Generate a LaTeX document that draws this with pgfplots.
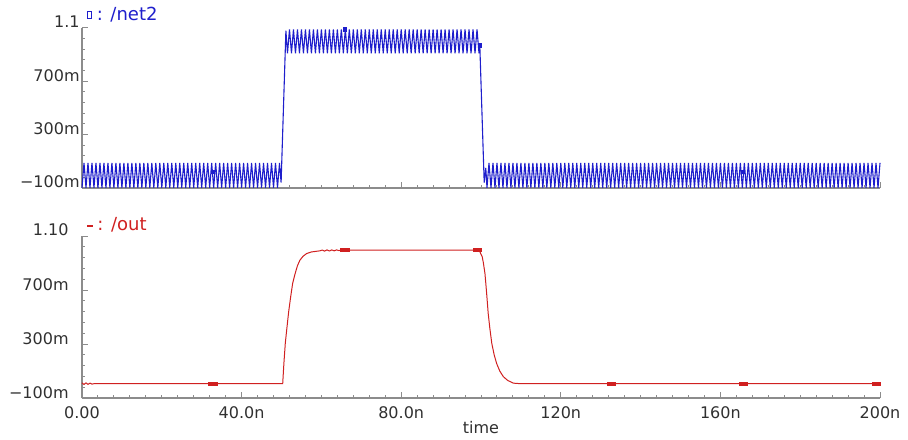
\documentclass[border=0pt]{standalone}
\usepackage{fontspec}
\setmainfont{DejaVu Sans}
\usepackage{pgfplots}
\pgfplotsset{compat=1.18}
\definecolor{wblue}{HTML}{1E1ECC}
\definecolor{wred}{HTML}{D02020}
\definecolor{axgray}{HTML}{8C8C8C}
\definecolor{lbl}{HTML}{303030}

\pgfplotsset{wave/.style={
  scale only axis, width=399pt,
  xmin=0, xmax=200, ymin=-0.1, ymax=1.1,
  axis lines=left, axis line style={-, axgray, line width=0.6pt},
  xtick={0,40,...,200}, ytick={-0.1,0.3,0.7,1.1},
  minor x tick num=9, minor y tick num=4,
  tick style={axgray, line width=0.5pt},
  major tick length=3pt, minor tick length=1.7pt,
  tick align=inside, clip=false,
  ticklabel style={font=\fontsize{8}{9}\selectfont, text=lbl},
  yticklabel style={anchor=base east, inner sep=0pt},
}}

\begin{document}
\begin{tikzpicture}
\useasboundingbox (0,0) rectangle (454pt,219.5pt);

% top panel: /net2
\begin{axis}[wave, at={(41pt,125.5pt)}, anchor=south west, height=80pt,
  xticklabels={},
  yticklabels={−100m,300m,700m,{1.1\hspace{13.5pt}}},
  yticklabel style={xshift=-1pt}]
\addplot[wblue, line width=0.55pt] coordinates {
(0,-.098)(.5,.088)(1,-.098)(1.5,.088)(2,-.098)(2.5,.088)(3,-.098)(3.5,.088)(4,-.098)(4.5,.088)
(5,-.098)(5.5,.088)(6,-.098)(6.5,.088)(7,-.098)(7.5,.088)(8,-.098)(8.5,.088)(9,-.098)(9.5,.088)
(10,-.098)(10.5,.088)(11,-.098)(11.5,.088)(12,-.098)(12.5,.088)(13,-.098)(13.5,.088)(14,-.098)(14.5,.088)
(15,-.098)(15.5,.088)(16,-.098)(16.5,.088)(17,-.098)(17.5,.088)(18,-.098)(18.5,.088)(19,-.098)(19.5,.088)
(20,-.098)(20.5,.088)(21,-.098)(21.5,.088)(22,-.098)(22.5,.088)(23,-.098)(23.5,.088)(24,-.098)(24.5,.088)
(25,-.098)(25.5,.088)(26,-.098)(26.5,.088)(27,-.098)(27.5,.088)(28,-.098)(28.5,.088)(29,-.098)(29.5,.088)
(30,-.098)(30.5,.088)(31,-.098)(31.5,.088)(32,-.098)(32.5,.088)(33,-.098)(33.5,.088)(34,-.098)(34.5,.088)
(35,-.098)(35.5,.088)(36,-.098)(36.5,.088)(37,-.098)(37.5,.088)(38,-.098)(38.5,.088)(39,-.098)(39.5,.088)
(40,-.098)(40.5,.088)(41,-.098)(41.5,.088)(42,-.098)(42.5,.088)(43,-.098)(43.5,.088)(44,-.098)(44.5,.088)
(45,-.098)(45.5,.088)(46,-.098)(46.5,.088)(47,-.098)(47.5,.088)(48,-.098)(48.5,.088)(49,-.098)(49.5,.088)
(49.9,-.06)(51.1,1.08)
(51.5,.91)(52,1.09)(52.5,.91)(53,1.09)(53.5,.91)(54,1.09)(54.5,.91)(55,1.09)(55.5,.91)
(56,1.09)(56.5,.91)(57,1.09)(57.5,.91)(58,1.09)(58.5,.91)(59,1.09)(59.5,.91)(60,1.09)(60.5,.91)
(61,1.09)(61.5,.91)(62,1.09)(62.5,.91)(63,1.09)(63.5,.91)(64,1.09)(64.5,.91)(65,1.09)(65.5,.91)
(66,1.09)(66.5,.91)(67,1.09)(67.5,.91)(68,1.09)(68.5,.91)(69,1.09)(69.5,.91)(70,1.09)(70.5,.91)
(71,1.09)(71.5,.91)(72,1.09)(72.5,.91)(73,1.09)(73.5,.91)(74,1.09)(74.5,.91)(75,1.09)(75.5,.91)
(76,1.09)(76.5,.91)(77,1.09)(77.5,.91)(78,1.09)(78.5,.91)(79,1.09)(79.5,.91)(80,1.09)(80.5,.91)
(81,1.09)(81.5,.91)(82,1.09)(82.5,.91)(83,1.09)(83.5,.91)(84,1.09)(84.5,.91)(85,1.09)(85.5,.91)
(86,1.09)(86.5,.91)(87,1.09)(87.5,.91)(88,1.09)(88.5,.91)(89,1.09)(89.5,.91)(90,1.09)(90.5,.91)
(91,1.09)(91.5,.91)(92,1.09)(92.5,.91)(93,1.09)(93.5,.91)(94,1.09)(94.5,.91)(95,1.09)(95.5,.91)
(96,1.09)(96.5,.91)(97,1.09)(97.5,.91)(98,1.09)(98.5,.91)(99,1.09)(99.5,.91)(99.7,.97)
(100.8,-.06)(101.2,.05)
(101.5,-.098)(102,.088)(102.5,-.098)(103,.088)(103.5,-.098)(104,.088)(104.5,-.098)(105,.088)
(105.5,-.098)(106,.088)(106.5,-.098)(107,.088)(107.5,-.098)(108,.088)(108.5,-.098)(109,.088)(109.5,-.098)(110,.088)
(110.5,-.098)(111,.088)(111.5,-.098)(112,.088)(112.5,-.098)(113,.088)(113.5,-.098)(114,.088)(114.5,-.098)(115,.088)
(115.5,-.098)(116,.088)(116.5,-.098)(117,.088)(117.5,-.098)(118,.088)(118.5,-.098)(119,.088)(119.5,-.098)(120,.088)
(120.5,-.098)(121,.088)(121.5,-.098)(122,.088)(122.5,-.098)(123,.088)(123.5,-.098)(124,.088)(124.5,-.098)(125,.088)
(125.5,-.098)(126,.088)(126.5,-.098)(127,.088)(127.5,-.098)(128,.088)(128.5,-.098)(129,.088)(129.5,-.098)(130,.088)
(130.5,-.098)(131,.088)(131.5,-.098)(132,.088)(132.5,-.098)(133,.088)(133.5,-.098)(134,.088)(134.5,-.098)(135,.088)
(135.5,-.098)(136,.088)(136.5,-.098)(137,.088)(137.5,-.098)(138,.088)(138.5,-.098)(139,.088)(139.5,-.098)(140,.088)
(140.5,-.098)(141,.088)(141.5,-.098)(142,.088)(142.5,-.098)(143,.088)(143.5,-.098)(144,.088)(144.5,-.098)(145,.088)
(145.5,-.098)(146,.088)(146.5,-.098)(147,.088)(147.5,-.098)(148,.088)(148.5,-.098)(149,.088)(149.5,-.098)(150,.088)
(150.5,-.098)(151,.088)(151.5,-.098)(152,.088)(152.5,-.098)(153,.088)(153.5,-.098)(154,.088)(154.5,-.098)(155,.088)
(155.5,-.098)(156,.088)(156.5,-.098)(157,.088)(157.5,-.098)(158,.088)(158.5,-.098)(159,.088)(159.5,-.098)(160,.088)
(160.5,-.098)(161,.088)(161.5,-.098)(162,.088)(162.5,-.098)(163,.088)(163.5,-.098)(164,.088)(164.5,-.098)(165,.088)
(165.5,-.098)(166,.088)(166.5,-.098)(167,.088)(167.5,-.098)(168,.088)(168.5,-.098)(169,.088)(169.5,-.098)(170,.088)
(170.5,-.098)(171,.088)(171.5,-.098)(172,.088)(172.5,-.098)(173,.088)(173.5,-.098)(174,.088)(174.5,-.098)(175,.088)
(175.5,-.098)(176,.088)(176.5,-.098)(177,.088)(177.5,-.098)(178,.088)(178.5,-.098)(179,.088)(179.5,-.098)(180,.088)
(180.5,-.098)(181,.088)(181.5,-.098)(182,.088)(182.5,-.098)(183,.088)(183.5,-.098)(184,.088)(184.5,-.098)(185,.088)
(185.5,-.098)(186,.088)(186.5,-.098)(187,.088)(187.5,-.098)(188,.088)(188.5,-.098)(189,.088)(189.5,-.098)(190,.088)
(190.5,-.098)(191,.088)(191.5,-.098)(192,.088)(192.5,-.098)(193,.088)(193.5,-.098)(194,.088)(194.5,-.098)(195,.088)
(195.5,-.098)(196,.088)(196.5,-.098)(197,.088)(197.5,-.098)(198,.088)(198.5,-.098)(199,.088)(199.5,-.098)(200,.088)
};
\addplot[only marks, mark=square*, mark size=0.8pt, wblue] coordinates {
(32.8,.02)(65.9,1.09)(99.7,.97)(165.7,.02)
};
\end{axis}

% bottom panel: /out
\begin{axis}[wave, at={(41pt,20.5pt)}, anchor=south west, height=81pt,
  xticklabels={0.00,40.0n,80.0n,120n,160n,200n},
  xticklabel style={anchor=north, inner sep=0pt, yshift=-4pt},
  yticklabels={−100m,300m,700m,{1.10\hspace{8pt}}},
  yticklabel style={xshift=-6.5pt},
  xlabel={time},
  xlabel style={at={(axis description cs:0.5,0)}, anchor=base, yshift=-17.5pt,
    font=\fontsize{8}{9}\selectfont, text=lbl}]
\addplot[wred, line width=0.5pt] coordinates {
(0,.012)(.5,0)(1,.012)(1.5,.001)(2,.01)(2.5,.003)(3,.006)(50.3,.006)
(50.6,.157)(50.95,.305)(51.3,.404)(51.8,.54)(52.3,.65)(52.8,.75)(53.4,.82)(54,.88)
(54.6,.92)(55.4,.95)(56.3,.97)(57.5,.982)(59.6,.99)(60.2,.996)(60.8,.988)(61.4,.997)
(62,.989)(62.6,.997)(63.2,.99)(63.8,.997)(64.4,.992)(65,.996)(66,.996)(98,.996)(99.5,.996)
(100.3,.947)(100.6,.9)(101,.82)(101.4,.68)(101.8,.527)(102.2,.42)(102.7,.305)(103.3,.22)
(103.9,.157)(104.7,.1)(105.6,.058)(106.7,.03)(108.1,.01)(110,.006)(200,.006)
};
\addplot[only marks, mark=square*, mark size=0.75pt, mark options={xscale=2.7}, wred] coordinates {
(32.8,.006)(65.9,.996)(99.2,.996)(132.6,.006)(165.7,.006)(199.2,.006)
};
\end{axis}

\node[anchor=west, inner sep=0pt, text=wblue, font=\fontsize{9}{10}\selectfont] at (43.5pt,212pt)
  {\raisebox{1.5pt}{\fboxsep=0pt\fboxrule=0.5pt\fbox{\rule{1.2pt}{0pt}\rule{0pt}{3pt}}}\hspace{2.5pt}: /net2};
\node[anchor=west, inner sep=0pt, text=wred, font=\fontsize{9}{10}\selectfont] at (43.5pt,107pt)
  {\textcolor{wred}{\rule[2pt]{3pt}{1pt}}\hspace{2pt}: /out};
\end{tikzpicture}
\end{document}
